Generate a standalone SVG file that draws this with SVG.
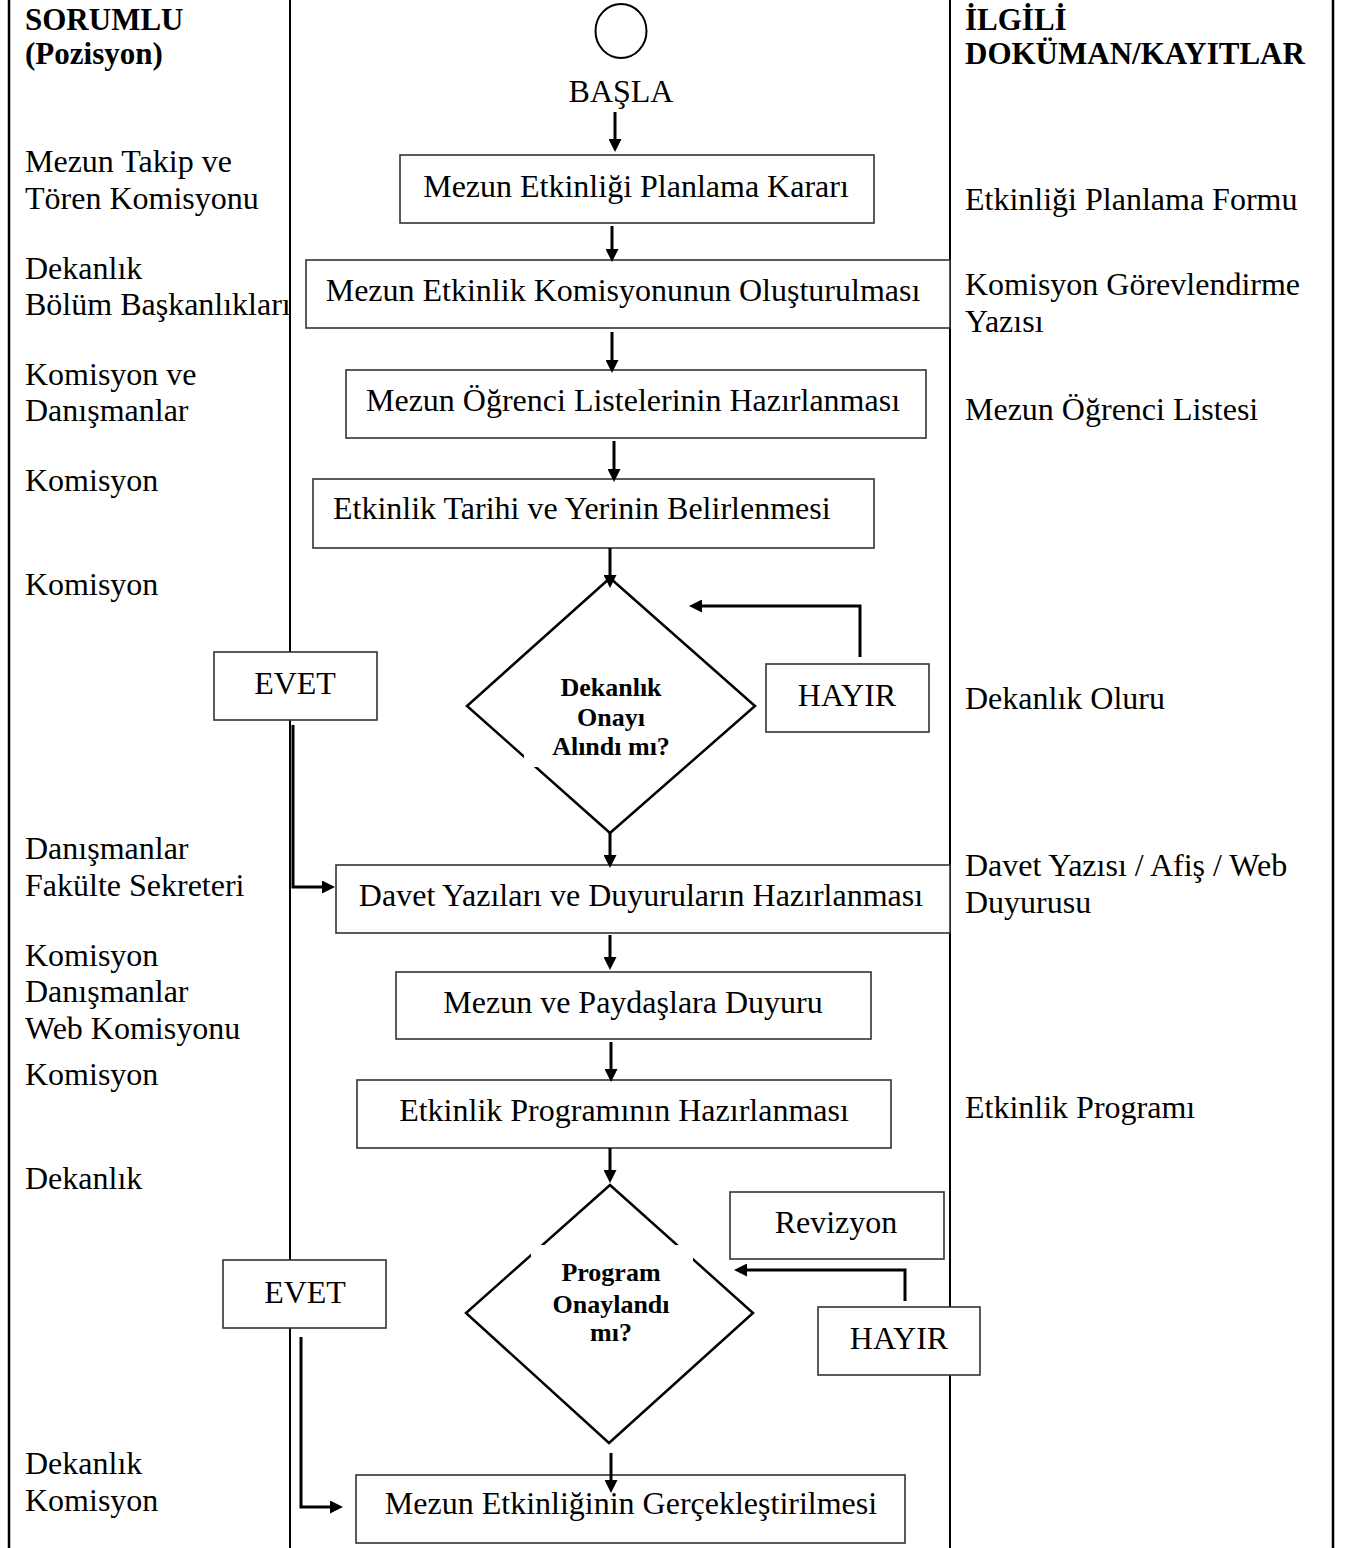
<svg xmlns="http://www.w3.org/2000/svg" width="1348" height="1548" viewBox="0 0 1348 1548">
<style>
.t{font-family:"Liberation Serif","Times New Roman",serif;font-size:32px;fill:#000}
.c{text-anchor:middle}
.h{font-family:"Liberation Serif","Times New Roman",serif;font-size:31px;font-weight:bold;fill:#000}
.q{font-family:"Liberation Serif","Times New Roman",serif;font-size:26px;font-weight:bold;fill:#000;text-anchor:middle}
.box{fill:#fff;stroke:#333;stroke-width:1.6}
.dia{fill:#fff;stroke:#000;stroke-width:2.5}
.frame{stroke:#000;fill:none}
.conn{fill:none;stroke:#000;stroke-width:3;marker-end:url(#ah)}
</style>
<defs>
<marker id="ah" viewBox="0 0 13 13" refX="9" refY="6.5" markerWidth="13" markerHeight="13" markerUnits="userSpaceOnUse" orient="auto">
<path d="M0,0 L13,6.5 L0,13 z" fill="#000"/>
</marker>
</defs>
<rect x="0" y="0" width="1348" height="1548" fill="#fff"/>
<g id="frame">
<line class="frame" x1="9" y1="0" x2="9" y2="1548" stroke-width="2.5"/>
<line class="frame" x1="290" y1="0" x2="290" y2="1548" stroke-width="2"/>
<line class="frame" x1="950" y1="0" x2="950" y2="1548" stroke-width="2"/>
<line class="frame" x1="1333" y1="0" x2="1333" y2="1548" stroke-width="2.5"/>
</g>
<g id="left-column">
<text class="h" x="25" y="30">SORUMLU</text>
<text class="h" x="25" y="64">(Pozisyon)</text>
<text class="t" x="25" y="172">Mezun Takip ve</text>
<text class="t" x="25" y="209">Tören Komisyonu</text>
<text class="t" x="25" y="279">Dekanlık</text>
<text class="t" x="25" y="315">Bölüm Başkanlıkları</text>
<text class="t" x="25" y="385">Komisyon ve</text>
<text class="t" x="25" y="421">Danışmanlar</text>
<text class="t" x="25" y="491">Komisyon</text>
<text class="t" x="25" y="595">Komisyon</text>
<text class="t" x="25" y="859">Danışmanlar</text>
<text class="t" x="25" y="896">Fakülte Sekreteri</text>
<text class="t" x="25" y="966">Komisyon</text>
<text class="t" x="25" y="1002">Danışmanlar</text>
<text class="t" x="25" y="1039">Web Komisyonu</text>
<text class="t" x="25" y="1085">Komisyon</text>
<text class="t" x="25" y="1189">Dekanlık</text>
<text class="t" x="25" y="1474">Dekanlık</text>
<text class="t" x="25" y="1511">Komisyon</text>
</g>
<g id="right-column">
<text class="h" x="965" y="30">İLGİLİ</text>
<text class="h" x="965" y="64">DOKÜMAN/KAYITLAR</text>
<text class="t" x="965" y="210">Etkinliği Planlama Formu</text>
<text class="t" x="965" y="295">Komisyon Görevlendirme</text>
<text class="t" x="965" y="332">Yazısı</text>
<text class="t" x="965" y="420">Mezun Öğrenci Listesi</text>
<text class="t" x="965" y="709">Dekanlık Oluru</text>
<text class="t" x="965" y="876">Davet Yazısı / Afiş / Web</text>
<text class="t" x="965" y="913">Duyurusu</text>
<text class="t" x="965" y="1118">Etkinlik Programı</text>
</g>
<g id="start">
<ellipse cx="621" cy="31" rx="25.5" ry="27" fill="#fff" stroke="#000" stroke-width="2"/>
<text class="t c" x="621" y="102">BAŞLA</text>
</g>
<g id="n1"><rect class="box" x="400" y="155" width="474" height="68"/><text class="t c" x="636" y="197">Mezun Etkinliği Planlama Kararı</text></g>
<g id="n2"><rect class="box" x="306" y="260" width="644" height="68"/><text class="t c" x="623" y="301">Mezun Etkinlik Komisyonunun Oluşturulması</text></g>
<g id="n3"><rect class="box" x="346" y="370" width="580" height="68"/><text class="t c" x="633" y="411">Mezun Öğrenci Listelerinin Hazırlanması</text></g>
<g id="n4"><rect class="box" x="313" y="479" width="561" height="69"/><text class="t" x="333" y="519">Etkinlik Tarihi ve Yerinin Belirlenmesi</text></g>
<g id="d1">
<polygon class="dia" points="610,578 755,706 610,833 467,706"/>
<rect x="524" y="700" width="156" height="67" fill="#fff"/>
<text class="q" x="611" y="696">Dekanlık</text>
<text class="q" x="611" y="726">Onayı</text>
<text class="q" x="611" y="755">Alındı mı?</text>
</g>
<g id="evet1"><rect class="box" x="214" y="652" width="163" height="68"/><text class="t c" x="295" y="694">EVET</text></g>
<g id="hayir1"><rect class="box" x="766" y="664" width="163" height="68"/><text class="t c" x="847" y="706">HAYIR</text></g>
<g id="n5"><rect class="box" x="336" y="865" width="614" height="68"/><text class="t c" x="641" y="906">Davet Yazıları ve Duyuruların Hazırlanması</text></g>
<g id="n6"><rect class="box" x="396" y="972" width="475" height="67"/><text class="t c" x="633" y="1013">Mezun ve Paydaşlara Duyuru</text></g>
<g id="n7"><rect class="box" x="357" y="1080" width="534" height="68"/><text class="t c" x="624" y="1121">Etkinlik Programının Hazırlanması</text></g>
<g id="d2">
<polygon class="dia" points="610,1185 753,1313 609,1443 466,1313"/>
<rect x="531" y="1245" width="162" height="115" fill="#fff"/>
<text class="q" x="611" y="1281">Program</text>
<text class="q" x="611" y="1313">Onaylandı</text>
<text class="q" x="611" y="1341">mı?</text>
</g>
<g id="revizyon"><rect class="box" x="730" y="1192" width="214" height="67"/><text class="t c" x="836" y="1233">Revizyon</text></g>
<g id="hayir2"><rect class="box" x="818" y="1307" width="162" height="68"/><text class="t c" x="899" y="1349">HAYIR</text></g>
<g id="evet2"><rect class="box" x="223" y="1260" width="163" height="68"/><text class="t c" x="305" y="1303">EVET</text></g>
<g id="n8"><rect class="box" x="356" y="1475" width="549" height="68"/><text class="t c" x="631" y="1514">Mezun Etkinliğinin Gerçekleştirilmesi</text></g>
<g id="connectors">
<path class="conn" d="M615,112 V148"/>
<path class="conn" d="M612,226 V258"/>
<path class="conn" d="M612,332 V369"/>
<path class="conn" d="M614,441 V478"/>
<path class="conn" d="M610,548 V584"/>
<path class="conn" d="M610,833 V864"/>
<path class="conn" d="M610,935 V966"/>
<path class="conn" d="M611,1042 V1078"/>
<path class="conn" d="M610,1148 V1179"/>
<path class="conn" d="M611,1453 V1489"/>
<path class="conn" d="M860,657 V606 H693"/>
<path class="conn" d="M905,1301 V1270 H738"/>
<path class="conn" d="M293,725 V887 H331" stroke-width="4"/>
<path class="conn" d="M301,1337 V1507 H339" stroke-width="4"/>
</g>
</svg>
